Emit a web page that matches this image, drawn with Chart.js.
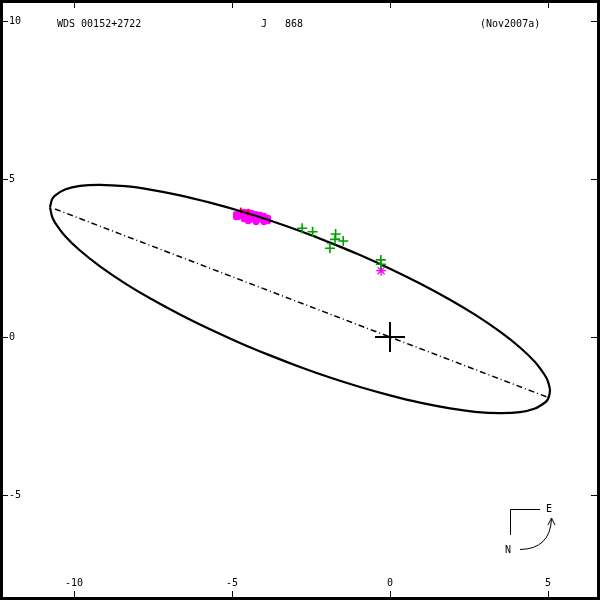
<!DOCTYPE html>
<html>
<head>
<meta charset="utf-8">
<script src="https://cdn.jsdelivr.net/npm/chart.js@4"></script>
<style>
    html, body { margin: 0; padding: 0; background: #fff; }
</style>
</head>
<body>
<canvas id="myChart" width="600" height="600"></canvas>
<script>
// Header texts
const headerLeft = 'WDS 00152+2722';
const headerMid = 'J   868';
const headerRight = '(Nov2007a)';

// Tick labels
const xTicks = [-10, -5, 0, 5];
const yTicks = [10, 5, 0, -5];

// Apparent orbit (upper arc then lower arc)
const orbitX = [-10.759, -10.696, -10.601, -10.285, -9.810, -9.177, -8.386, -7.595, -6.646, -5.696, -4.747, -3.797, -2.848, -1.899, -0.949, 0,
    0.949, 1.899, 2.690, 3.481, 4.114, 4.589, 4.905, 5.0, 5.063,
    5.0, 4.905, 4.589, 4.114, 3.481, 2.690, 1.899, 0.949, 0, -0.949, -1.899, -2.848, -3.797, -4.747, -5.696, -6.646, -7.595,
    -8.386, -9.177, -9.810, -10.285, -10.601, -10.696, -10.759];
const orbitY = [4.108, 4.354, 4.478, 4.668, 4.782, 4.816, 4.772, 4.665, 4.484, 4.253, 3.987, 3.687, 3.353, 2.987, 2.592, 2.161,
    1.693, 1.180, 0.706, 0.168, -0.332, -0.794, -1.218, -1.411, -1.703,
    -1.962, -2.073, -2.263, -2.377, -2.411, -2.367, -2.259, -2.079, -1.848, -1.582, -1.282, -0.948, -0.582, -0.187, 0.244, 0.712, 1.225,
    1.699, 2.237, 2.737, 3.199, 3.623, 3.816, 4.108];

// Line of apsides
const apsX = [-10.6, 4.97];
const apsY = [4.05, -1.90];

// Micrometer measures (green)
const obsX = [-2.78, -2.45, -1.72, -1.74, -1.48, -1.90, -0.29, -0.29];
const obsY = [3.44, 3.33, 3.26, 3.09, 3.04, 2.81, 2.44, 2.30];

// O-C segments (green dotted)
const ocFromX = [-2.45, -1.90, -1.48, -0.29];
const ocFromY = [3.33, 2.81, 3.04, 2.44];
const ocToX = [-2.30, -2.02, -1.65, -0.27];
const ocToY = [3.16, 3.07, 3.12, 2.10];

// Interferometric measures (magenta)
const specX = [-4.87, -4.75, -4.62, -4.49, -4.37, -4.24, -4.11, -3.99, -3.86, -4.81, -4.68, -4.56, -4.43, -4.30, -4.18, -4.05, -3.92,
    -4.62, -4.43, -4.24, -4.49, -4.24, -3.99, -4.87, -3.86];
const specY = [3.89, 3.92, 3.96, 3.96, 3.92, 3.89, 3.86, 3.83, 3.77, 3.80, 3.83, 3.83, 3.80, 3.77, 3.73, 3.70, 3.70,
    3.73, 3.70, 3.67, 3.67, 3.64, 3.64, 3.80, 3.67];

// Red residual ticks
const redX = [-4.72, -4.49];
const redY = [4.00, 3.93];

// Magenta star
const starX = [-0.28];
const starY = [2.10];

const toPts = (xs, ys) => xs.map((x, i) => ({ x: x, y: ys[i] }));

document.addEventListener('DOMContentLoaded', function () {
    const ctx = document.getElementById('myChart').getContext('2d');
    const font = '10px "DejaVu Sans Mono", monospace';

    const datasets = [];

    // green crosses on top
    datasets.push({
        data: toPts(obsX, obsY), pointStyle: 'cross', radius: 5, borderWidth: 1.6,
        borderColor: '#00a000', backgroundColor: '#00a000', order: 1
    });
    datasets.push({
        data: toPts(starX, starY), pointStyle: 'star', radius: 5, borderWidth: 1.3,
        borderColor: '#ff00ff', backgroundColor: '#ff00ff', order: 2
    });
    ocFromX.forEach((x, i) => {
        datasets.push({
            data: [{ x: x, y: ocFromY[i] }, { x: ocToX[i], y: ocToY[i] }],
            showLine: true, borderColor: '#00a000', borderWidth: 1, borderDash: [2, 2],
            pointRadius: 0, order: 3
        });
    });
    datasets.push({
        data: toPts(orbitX, orbitY), showLine: true, tension: 0.3, borderColor: '#000',
        borderWidth: 2.2, pointRadius: 0, order: 4
    });
    datasets.push({
        data: toPts(redX, redY), pointStyle: 'line', rotation: 90, radius: 3, borderWidth: 2,
        borderColor: '#ff0000', order: 5
    });
    datasets.push({
        data: toPts(specX, specY), pointStyle: 'circle', radius: 3.2, borderWidth: 0,
        backgroundColor: '#ff00ff', order: 6
    });
    datasets.push({
        data: toPts(apsX, apsY), showLine: true, borderColor: '#000', borderWidth: 1.5,
        borderDash: [6, 3, 1, 3], pointRadius: 0, order: 7
    });
    datasets.push({
        data: [{ x: 0, y: 0 }], pointStyle: 'cross', radius: 15, borderWidth: 2,
        borderColor: '#000', order: 8
    });

    // Frame, ticks, labels, header and compass
    const framePlugin = {
        id: 'frame',
        afterDraw(chart) {
            const c = chart.ctx;
            const xs = chart.scales.x, ys = chart.scales.y;
            c.save();
            c.strokeStyle = '#000';
            c.lineWidth = 3;
            c.strokeRect(1.5, 1.5, 597, 597);

            c.lineWidth = 1;
            c.beginPath();
            xTicks.forEach(v => {
                const px = Math.round(xs.getPixelForValue(v)) + 0.5;
                c.moveTo(px, 3); c.lineTo(px, 8);
                c.moveTo(px, 597); c.lineTo(px, 591);
            });
            yTicks.forEach(v => {
                const py = Math.round(ys.getPixelForValue(v)) + 0.5;
                c.moveTo(3, py); c.lineTo(8, py);
                c.moveTo(597, py); c.lineTo(591, py);
            });
            c.stroke();

            c.fillStyle = '#000';
            c.font = font;
            c.textBaseline = 'middle';
            c.textAlign = 'left';
            yTicks.forEach(v => c.fillText(String(v), 9, ys.getPixelForValue(v)));
            c.textAlign = 'center';
            xTicks.forEach(v => c.fillText(String(v), xs.getPixelForValue(v), 583));

            c.textAlign = 'left';
            c.fillText(headerLeft, 57, 24);
            c.fillText(headerMid, 261, 24);
            c.fillText(headerRight, 480, 24);

            // compass
            c.lineWidth = 1;
            c.beginPath();
            c.moveTo(540, 509.5); c.lineTo(510.5, 509.5); c.lineTo(510.5, 535);
            c.moveTo(520, 549.5);
            c.quadraticCurveTo(550, 549, 551.5, 519);
            c.moveTo(548, 525); c.lineTo(551.5, 518); c.lineTo(555, 525);
            c.stroke();
            c.fillText('E', 546, 509);
            c.fillText('N', 505, 550);
            c.restore();
        }
    };

    new Chart(ctx, {
        type: 'scatter',
        data: { datasets: datasets },
        options: {
            responsive: false,
            animation: false,
            layout: { padding: 0, autoPadding: false },
            scales: {
                x: { type: 'linear', min: -12.342, max: 6.646, display: false },
                y: { type: 'linear', min: -8.323, max: 10.665, display: false }
            },
            plugins: { legend: { display: false }, tooltip: { enabled: false } },
            events: []
        },
        plugins: [framePlugin]
    });
});
</script>
</body>
</html>
